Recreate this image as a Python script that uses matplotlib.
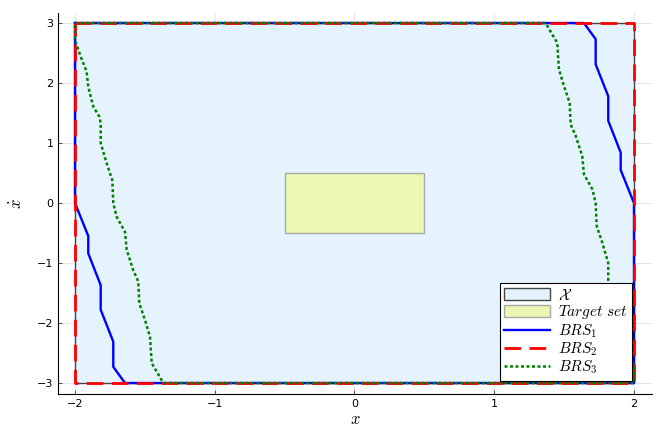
import numpy as np
import matplotlib
matplotlib.use("Agg")
from matplotlib import pyplot as plt
from matplotlib.patches import Rectangle

plt.rcParams['mathtext.fontset'] = 'cm'
plt.rcParams['font.family'] = 'DejaVu Sans'

# state constraint set X and target set
X_box = [-2.0, 2.0, -3.0, 3.0]
target_box = [-0.5, 0.5, -0.5, 0.5]

# BRS_1 left edge (right edge is point-symmetric)
brs1_x = [-2.0, -1.905, -1.905, -1.816, -1.816, -1.726, -1.726, -1.642]
brs1_y = [0.0, -0.55, -0.84, -1.37, -1.78, -2.31, -2.73, -3.0]

# BRS_2 = whole box
brs2_x = [-2, 2, 2, -2, -2]
brs2_y = [3, 3, -3, -3, 3]

# BRS_3 left edge (right edge is point-symmetric)
brs3_x = [-2.0, -1.959, -1.917, -1.905, -1.869, -1.826, -1.816, -1.816, -1.773,
          -1.733, -1.726, -1.702, -1.642, -1.630, -1.583, -1.547, -1.540,
          -1.499, -1.463, -1.451, -1.415, -1.368]
brs3_y = [2.717, 2.439, 2.19, 1.94, 1.605, 1.44, 1.33, 1.0, 0.66, 0.38, 0.0,
          -0.23, -0.48, -0.78, -1.12, -1.31, -1.67, -1.95, -2.23, -2.67,
          -2.81, -3.0]


def closed_poly(lx, ly):
    lx = np.array(lx); ly = np.array(ly)
    rx = -lx; ry = -ly
    xs = [-2.0] + [rx[-1]]
    ys = [3.0] + [ry[-1]]
    xs += list(rx[::-1][1:]); ys += list(ry[::-1][1:])
    xs += [2.0, lx[-1]]; ys += [-3.0, -3.0]
    xs += list(lx[::-1][1:]); ys += list(ly[::-1][1:])
    xs += [-2.0]; ys += [3.0]
    return xs, ys


fig = plt.figure(figsize=(6.64, 4.43), dpi=100)
ax = fig.add_axes([0.0881, 0.1106, 0.8934, 0.8601])

ax.add_patch(Rectangle((X_box[0], X_box[2]), X_box[1] - X_box[0], X_box[3] - X_box[2],
                       facecolor='#e4f3fd', edgecolor='#444444', lw=1.0,
                       label=r'$\mathcal{X}$', zorder=1))
ax.add_patch(Rectangle((target_box[0], target_box[2]), target_box[1] - target_box[0],
                       target_box[3] - target_box[2], facecolor='#ecf7b3',
                       edgecolor='#a8aaa6', lw=1.0, label=r'$Target\ set$', zorder=2))

x1, y1 = closed_poly(brs1_x, brs1_y)
ax.plot(x1, y1, color='blue', lw=1.7, label=r'$BRS_1$', zorder=3)
ax.plot(brs2_x, brs2_y, color='red', lw=2.0, dashes=(6, 3), label=r'$BRS_2$', zorder=4)
x3, y3 = closed_poly(brs3_x, brs3_y)
ax.plot(x3, y3, color='green', lw=1.8, dashes=(1.2, 1.0), label=r'$BRS_3$', zorder=5)

ax.set_xlim(-2.118, 2.127)
ax.set_ylim(-3.183, 3.167)
ax.set_xticks([-2, -1, 0, 1, 2])
ax.set_yticks([-3, -2, -1, 0, 1, 2, 3])
ax.grid(True, color='#e6e6e6', lw=0.7)
ax.set_axisbelow(True)
ax.tick_params(direction='in', length=3, labelsize=8, color='#555555')
for s in ['top', 'right']:
    ax.spines[s].set_visible(False)
ax.set_xlabel(r'$x$', fontsize=12, labelpad=1)
ax.set_ylabel(r'$\dot{x}$', fontsize=12, labelpad=8)

leg = ax.legend(loc='lower right', bbox_to_anchor=(0.9668, 0.034), fontsize=11,
                frameon=True, fancybox=False, edgecolor='black', framealpha=1.0,
                borderaxespad=0.0, handlelength=3.0, handleheight=0.8,
                handletextpad=0.5, labelspacing=0.05, borderpad=0.3)
leg.get_frame().set_linewidth(0.8)

plt.savefig('out.png', dpi=100)
